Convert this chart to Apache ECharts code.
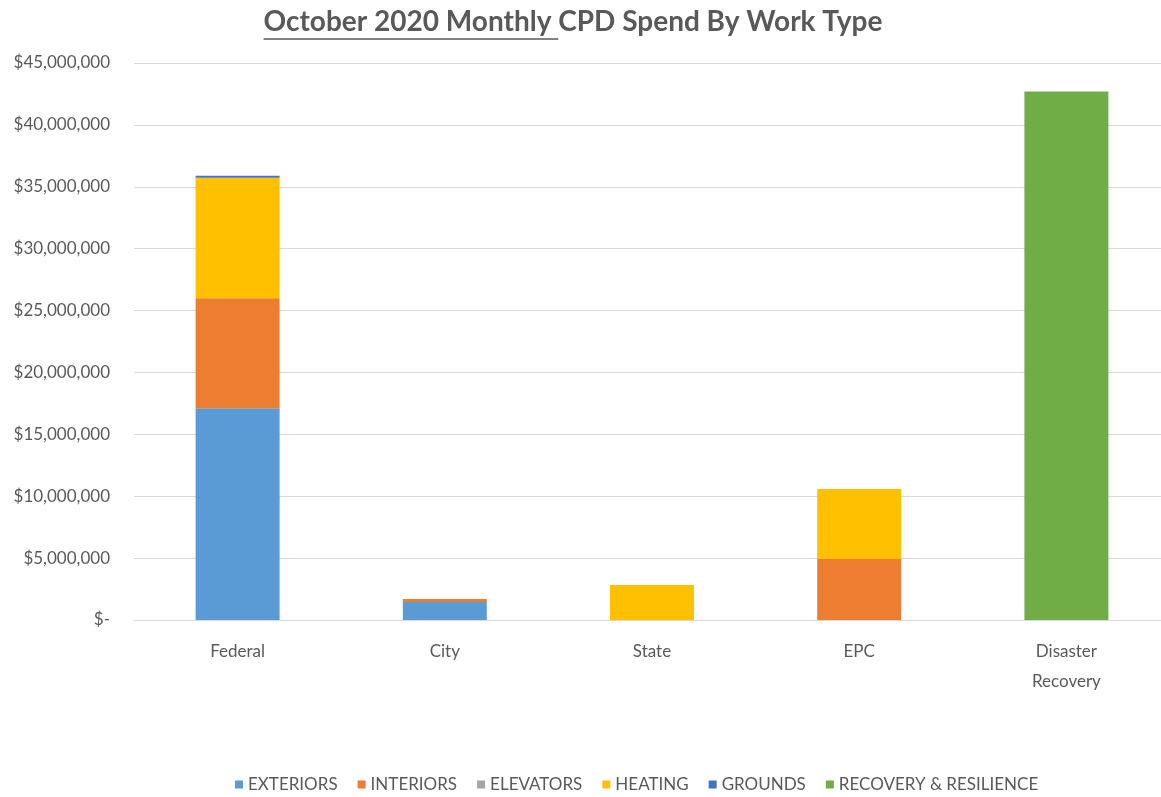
<!DOCTYPE html>
<html>
<head>
<meta charset="utf-8">
<script src="https://cdn.jsdelivr.net/npm/echarts@6/dist/echarts.min.js"></script>
<style>
html,body{margin:0;padding:0;background:#fff;overflow:hidden;}
#chart{width:1175px;height:797px;}
</style>
</head>
<body>
<div id="chart"></div>
<script>
const titleUnderlined = 'October 2020 Monthly ';
const titleRest = 'CPD Spend By Work Type';
const categories = ['Federal', 'City', 'State', 'EPC', 'Disaster\nRecovery'];
const seriesNames = ['EXTERIORS', 'INTERIORS', 'ELEVATORS', 'HEATING', 'GROUNDS', 'RECOVERY & RESILIENCE'];
const exteriors = [17100000, 1450000, 0, 0, 0];
const interiors = [8900000, 250000, 0, 4930000, 0];
const elevators = [0, 0, 0, 0, 0];
const heating = [9730000, 0, 2830000, 5650000, 0];
const grounds = [160000, 0, 0, 0, 0];
const recovery = [0, 0, 0, 0, 42700000];
const colors = ['#5B9BD5', '#ED7D31', '#A5A5A5', '#FFC000', '#4472C4', '#70AD47'];

const seriesData = [exteriors, interiors, elevators, heating, grounds, recovery];
const FONT = 'Lato, "Open Sans", sans-serif';

const chart = echarts.init(document.getElementById('chart'));

// measure title text for the underline
const ctx = document.createElement('canvas').getContext('2d');
const titleFont = 'bold 28px Lato, "Open Sans", sans-serif';
ctx.font = titleFont;
const fullW = ctx.measureText(titleUnderlined + titleRest).width;
const ulW = ctx.measureText(titleUnderlined).width;
const titleCx = 573;
const titleLeft = titleCx - fullW / 2;

function fmt(v) {
  if (v === 0) return '$-';
  return '$' + v.toLocaleString('en-US');
}

chart.setOption({
  animation: false,
  color: colors,
  graphic: [
    {
      type: 'text', left: titleLeft, top: 8,
      style: { text: titleUnderlined + titleRest, font: titleFont, fill: '#595959' }
    },
    {
      type: 'line', shape: { x1: titleLeft, y1: 39, x2: titleLeft + ulW, y2: 39 },
      style: { stroke: '#595959', lineWidth: 1.5 }
    }
  ],
  grid: { left: 134, width: 1036, top: 63, bottom: 177, containLabel: false },
  legend: {
    top: 771,
    left: 230,
    itemWidth: 8, itemHeight: 8, itemGap: 20,
    icon: 'rect',
    textStyle: { color: '#595959', fontSize: 17, fontFamily: FONT },
    data: seriesNames
  },
  xAxis: {
    type: 'category',
    data: categories,
    axisTick: { show: false },
    axisLine: { lineStyle: { color: '#D9D9D9' } },
    axisLabel: { color: '#595959', fontSize: 17, fontFamily: FONT, margin: 17, lineHeight: 30 }
  },
  yAxis: {
    type: 'value',
    min: 0, max: 45000000, interval: 5000000,
    axisLine: { show: false },
    axisTick: { show: false },
    splitLine: { lineStyle: { color: '#D9D9D9', width: 1 } },
    axisLabel: { color: '#595959', fontSize: 17, fontFamily: FONT, margin: 24, formatter: fmt }
  },
  series: seriesNames.map((n, i) => ({
    name: n,
    type: 'bar',
    stack: 'total',
    barWidth: 84,
    data: seriesData[i]
  }))
});
</script>
</body>
</html>
